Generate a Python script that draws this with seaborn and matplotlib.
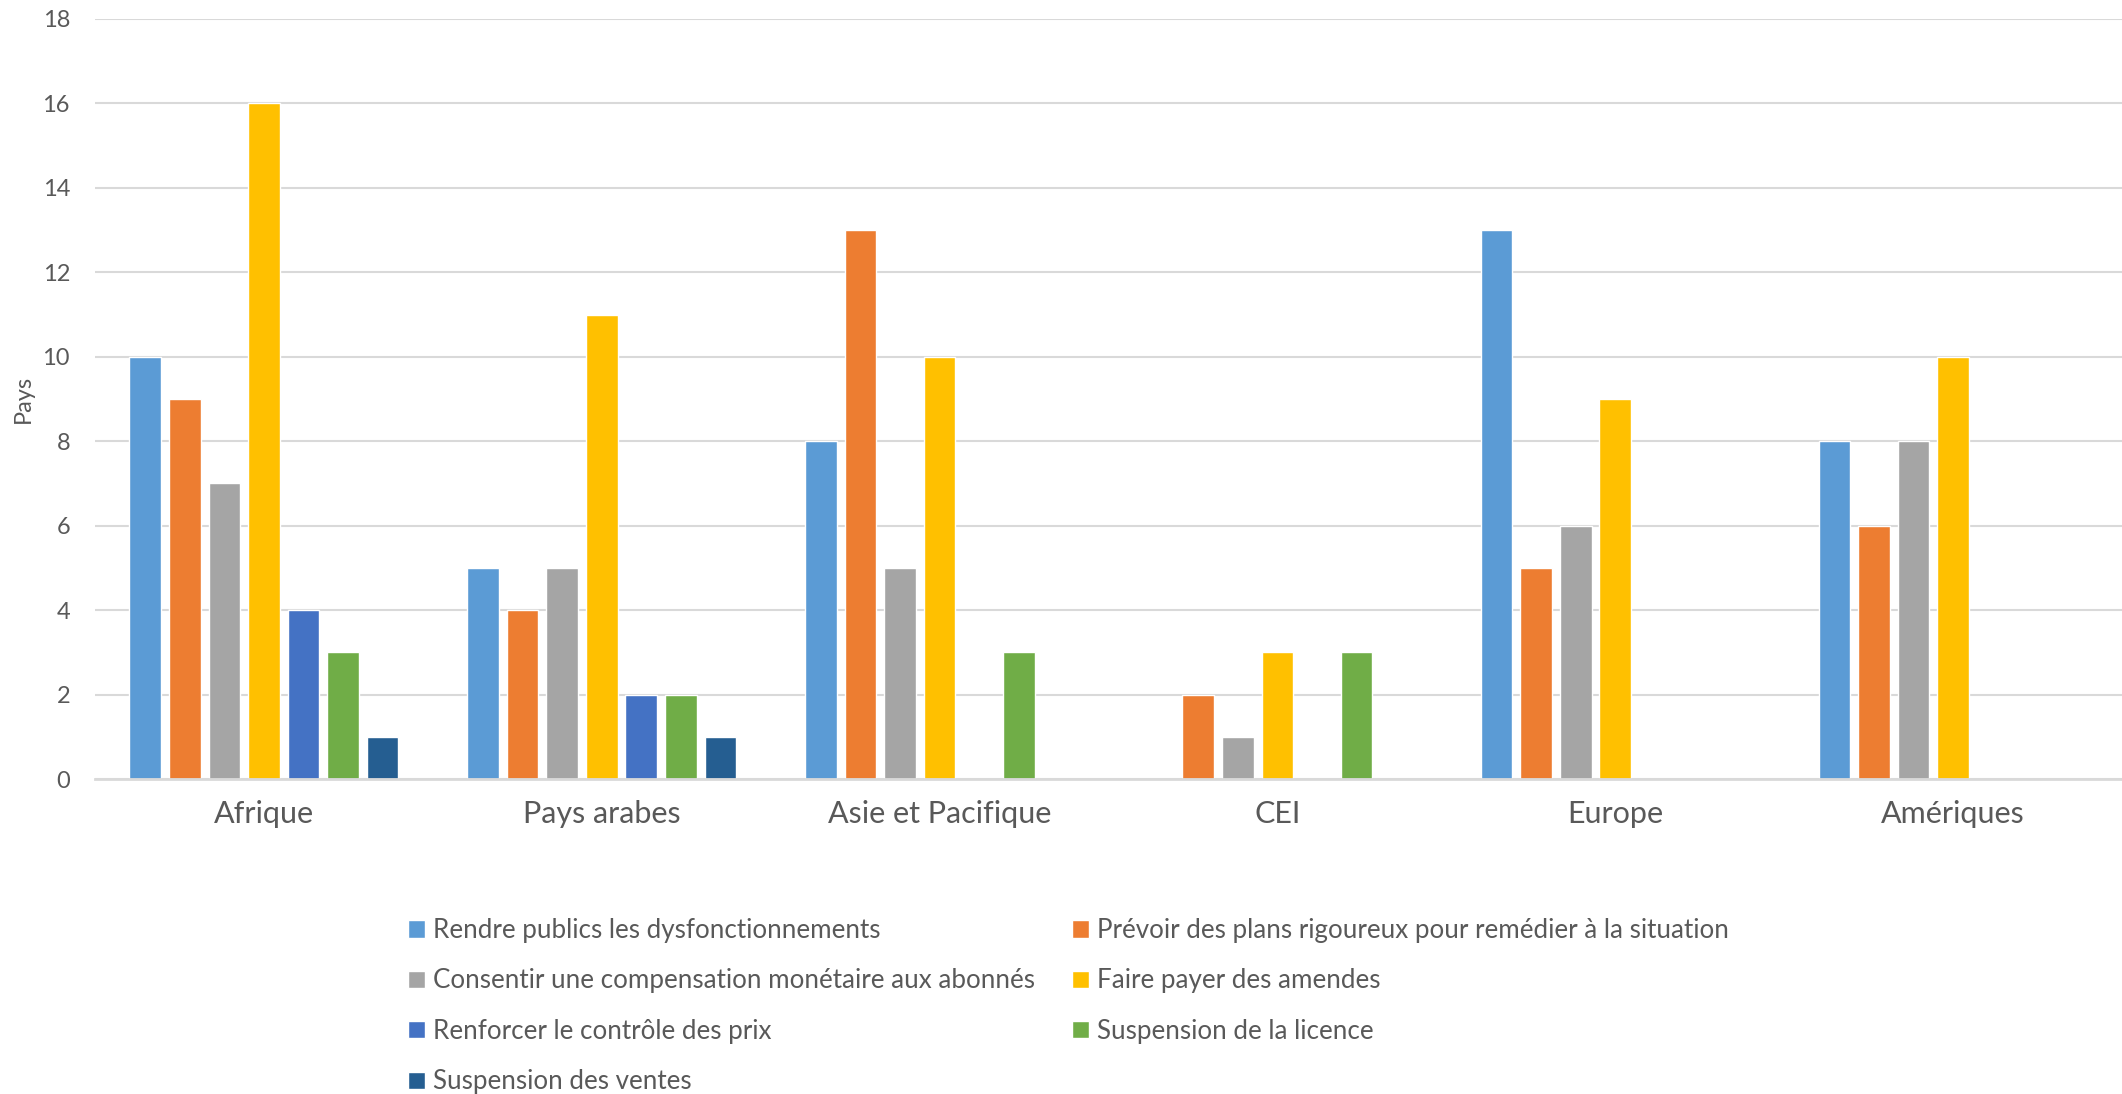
import pandas as pd
import matplotlib.pyplot as plt
import seaborn as sns

# data
regions = ['Afrique', 'Pays arabes', 'Asie et Pacifique', 'CEI', 'Europe', 'Amériques']
measures = [
    'Rendre publics les dysfonctionnements',
    'Prévoir des plans rigoureux pour remédier à la situation',
    'Consentir une compensation monétaire aux abonnés',
    'Faire payer des amendes',
    'Renforcer le contrôle des prix',
    'Suspension de la licence',
    'Suspension des ventes',
]
rendre = [10, 5, 8, 0, 13, 8]
prevoir = [9, 4, 13, 2, 5, 6]
consentir = [7, 5, 5, 1, 6, 8]
amendes = [16, 11, 10, 3, 9, 10]
prix = [4, 2, 0, 0, 0, 0]
licence = [3, 2, 3, 3, 0, 0]
ventes = [1, 1, 0, 0, 0, 0]
colors = ['#5B9BD5', '#ED7D31', '#A5A5A5', '#FFC000', '#4472C4', '#70AD47', '#255E91']

series = [rendre, prevoir, consentir, amendes, prix, licence, ventes]
rows = []
for name, vals in zip(measures, series):
    for reg, v in zip(regions, vals):
        rows.append({'Région': reg, 'Mesure': name, 'Pays': v})
df = pd.DataFrame(rows)

sns.set_theme(style="white")
plt.rcParams['font.family'] = ['Lato', 'DejaVu Sans']
txt = '#595959'

fig = plt.figure(figsize=(21.22, 10.94), dpi=100)
ax = fig.add_axes([95 / 2122, 315 / 1094, 2027 / 2122, 760 / 1094])

sns.barplot(data=df, x='Région', y='Pays', hue='Mesure', order=regions,
            hue_order=measures, palette=colors, width=0.82, gap=0.2,
            saturation=1, ax=ax, legend=True)

ax.set_xlim(-0.5, 5.5)
ax.set_ylim(0, 18)
ax.set_yticks(range(0, 19, 2))
ax.yaxis.grid(True, color='#D9D9D9', linewidth=1.5)
ax.set_axisbelow(True)
for s in ['top', 'right', 'left']:
    ax.spines[s].set_visible(False)
ax.spines['bottom'].set_color('#D9D9D9')
ax.spines['bottom'].set_linewidth(2)
ax.tick_params(axis='y', length=0, pad=18, labelsize=17, labelcolor=txt)
ax.tick_params(axis='x', length=0, pad=15, labelsize=22, labelcolor=txt)
ax.set_xlabel('')
ax.set_ylabel('Pays', fontsize=17, color=txt)
ax.yaxis.set_label_coords(-0.03, 0.5)

# legend, row-wise order in two columns
handles, labels = ax.get_legend_handles_labels()
ax.get_legend().remove()
order = [0, 2, 4, 6, 1, 3, 5]
fig.legend([handles[i] for i in order], [labels[i] for i in order],
           ncol=2, loc='upper left', bbox_to_anchor=(408 / 2122, 1 - 918 / 1094),
           frameon=False, fontsize=18.7, labelcolor=txt, borderpad=0, borderaxespad=0,
           handlelength=0.65, handleheight=0.65, handletextpad=0.3,
           labelspacing=0.98, columnspacing=1.45)

fig.savefig('out.png', dpi=100)
